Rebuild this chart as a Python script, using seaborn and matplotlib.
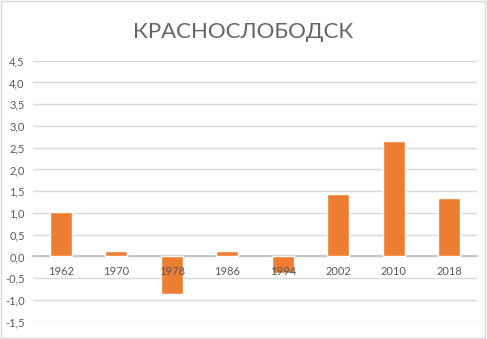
import matplotlib
matplotlib.use('Agg')
import matplotlib.pyplot as plt
import seaborn as sns
import pandas as pd
from matplotlib.ticker import FuncFormatter, MultipleLocator
from matplotlib.patches import Rectangle

# Данные
anios = ['1962', '1970', '1978', '1986', '1994', '2002', '2010', '2018']
valores = [1.02, 0.12, -0.87, 0.12, -0.38, 1.43, 2.65, 1.34]
titulo = 'КРАСНОСЛОБОДСК'

df = pd.DataFrame({'anio': anios, 'valor': valores})

sns.set_theme(style='white')
plt.rcParams['font.family'] = ['Lato', 'DejaVu Sans']

fig = plt.figure(figsize=(4.87, 3.39), dpi=100)
ax = fig.add_axes([33 / 487, 1 - 321.7 / 339, 444 / 487, 261 / 339])

sns.barplot(data=df, x='anio', y='valor', color='#ED7D31', width=0.4,
            saturation=1, ax=ax, zorder=3)

ax.set_ylim(-1.5, 4.5)
ax.yaxis.set_major_locator(MultipleLocator(0.5))
ax.yaxis.set_major_formatter(FuncFormatter(lambda v, p: f'{v:.1f}'.replace('.', ',')))
ax.grid(axis='y', color='#d9d9d9', linewidth=1)
ax.set_xlabel('')
ax.set_ylabel('')

for s in ['top', 'right', 'left']:
    ax.spines[s].set_visible(False)
ax.spines['bottom'].set_position(('data', 0))
ax.spines['bottom'].set_color('#bfbfbf')
ax.spines['bottom'].set_zorder(2)

# rejilla debajo, etiquetas de años encima de las barras
ax.yaxis.set_zorder(0.5)
ax.xaxis.set_zorder(5)

ax.tick_params(axis='both', length=0, labelsize=8, labelcolor='#595959')
ax.tick_params(axis='x', pad=7)
ax.tick_params(axis='y', pad=6)

fig.text(0.5, 1 - 32 / 339, titulo, ha='center', va='center',
         fontsize=16, color='#666666')

# borde del gráfico
fig.patches.append(Rectangle((0.002, 0.004), 0.994, 0.992, transform=fig.transFigure,
                             fill=False, edgecolor='#d9d9d9', linewidth=1))

plt.savefig('out.png', dpi=100)
